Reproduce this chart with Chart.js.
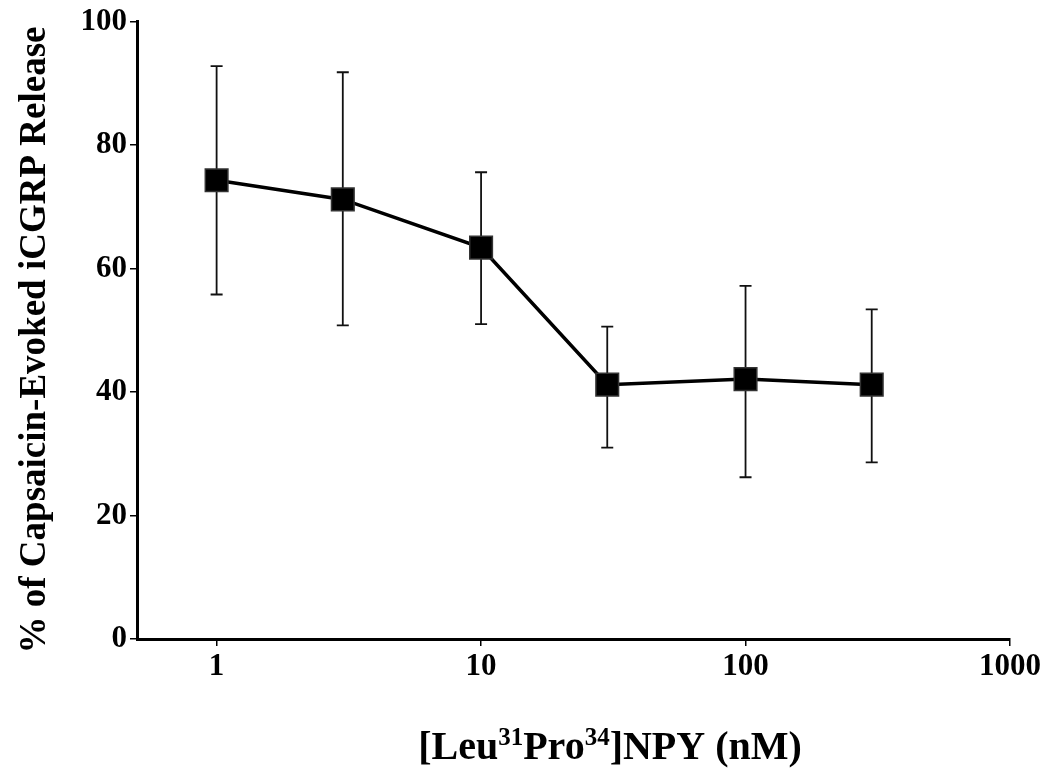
<!DOCTYPE html>
<html>
<head>
<meta charset="utf-8">
<script src="https://cdn.jsdelivr.net/npm/chart.js@4.4.1/dist/chart.umd.min.js"></script>
<style>
  html, body { margin: 0; padding: 0; background: #fff; }
  #wrap { width: 1050px; height: 769px; }
</style>
</head>
<body>
<div id="wrap"><canvas id="chart" width="1050" height="769"></canvas></div>
<script>
// dose in nM, % of capsaicin-evoked release, error bar ends
const doses = [1, 3, 10, 30, 100, 300];
const release = [74.3, 71.2, 63.4, 41.2, 42.1, 41.2];
const errUpper = [92.8, 91.8, 75.6, 50.6, 57.2, 53.4];
const errLower = [55.8, 50.8, 51.0, 31.0, 26.2, 28.6];
const xTicks = [1, 10, 100, 1000];

const serif = "'Liberation Serif', 'Times New Roman', serif";

const errorBars = {
    id: 'errorBars',
    beforeDatasetsDraw(chart) {
        const ctx = chart.ctx;
        const xs = chart.scales.x, ys = chart.scales.y;
        ctx.save();
        ctx.strokeStyle = '#111';
        ctx.lineWidth = 1.8;
        doses.forEach((d, i) => {
            const x = xs.getPixelForValue(d);
            const top = ys.getPixelForValue(errUpper[i]);
            const bot = ys.getPixelForValue(errLower[i]);
            ctx.beginPath();
            ctx.moveTo(x, top); ctx.lineTo(x, bot);
            ctx.moveTo(x - 6, top); ctx.lineTo(x + 6, top);
            ctx.moveTo(x - 6, bot); ctx.lineTo(x + 6, bot);
            ctx.stroke();
        });
        ctx.restore();
    }
};

// axis titles drawn by hand (x title has superscripts)
const axisTitles = {
    id: 'axisTitles',
    afterDraw(chart) {
        const ctx = chart.ctx;
        ctx.save();
        ctx.fillStyle = '#000';

        ctx.save();
        ctx.translate(45, 340);
        ctx.rotate(-Math.PI / 2);
        ctx.font = 'bold 37px ' + serif;
        ctx.textAlign = 'center';
        ctx.textBaseline = 'alphabetic';
        ctx.fillText('% of Capsaicin-Evoked iCGRP Release', 0, 0);
        ctx.restore();

        const parts = [
            ['[Leu', false], ['31', true], ['Pro', false], ['34', true], [']NPY (nM)', false]
        ];
        const big = 'bold 40px ' + serif, small = 'bold 25px ' + serif;
        let w = 0;
        parts.forEach(p => { ctx.font = p[1] ? small : big; w += ctx.measureText(p[0]).width; });
        let x = 610 - w / 2;
        const base = 759;
        ctx.textBaseline = 'alphabetic';
        parts.forEach(p => {
            ctx.font = p[1] ? small : big;
            ctx.fillText(p[0], x, p[1] ? base - 14 : base);
            x += ctx.measureText(p[0]).width;
        });
        ctx.restore();
    }
};

new Chart(document.getElementById('chart'), {
    type: 'line',
    data: {
        datasets: [{
            data: doses.map((d, i) => ({ x: d, y: release[i] })),
            borderColor: '#000',
            borderWidth: 3.5,
            backgroundColor: '#000',
            pointStyle: 'rect',
            pointRadius: 16,
            pointBorderColor: '#333',
            pointBorderWidth: 1.5,
            pointBackgroundColor: '#000',
            tension: 0
        }]
    },
    options: {
        responsive: false,
        animation: false,
        layout: { padding: { top: 14, right: 40, left: 0, bottom: 0 } },
        plugins: { legend: { display: false }, tooltip: { enabled: false } },
        scales: {
            x: {
                type: 'logarithmic',
                min: 0.5,
                max: 1000,
                afterBuildTicks: s => { s.ticks = xTicks.map(v => ({ value: v })); },
                afterFit: s => { s.height = 130; },
                border: { color: '#000', width: 3 },
                grid: { drawOnChartArea: false, drawTicks: true, tickLength: 7, color: '#000', lineWidth: 1.5 },
                ticks: {
                    color: '#000',
                    padding: 2,
                    maxRotation: 0,
                    autoSkip: false,
                    font: { family: serif, size: 31, weight: 'bold' },
                    callback: v => String(v)
                }
            },
            y: {
                min: 0,
                max: 100,
                afterFit: s => { s.width = 137; },
                border: { color: '#000', width: 3 },
                grid: { drawOnChartArea: false, drawTicks: true, tickLength: 7, color: '#000', lineWidth: 1.5 },
                ticks: {
                    stepSize: 20,
                    color: '#000',
                    padding: 3,
                    font: { family: serif, size: 31, weight: 'bold' }
                }
            }
        }
    },
    plugins: [errorBars, axisTitles]
});
</script>
</body>
</html>
